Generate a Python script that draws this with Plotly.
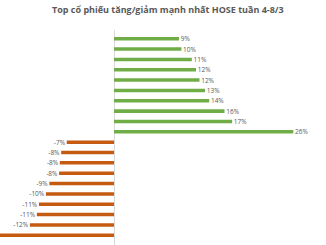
import plotly.graph_objects as go

categories = ["CP%02d" % i for i in range(1, 21)]
values = [9.35, 9.7, 11.2, 11.8, 12.3, 13.1, 13.7, 15.9, 17.0, 25.8,
          -6.8, -7.6, -7.8, -7.9, -9.3, -9.8, -10.8, -11.1, -12.1, -18.0]
labels = [(f"\u00a0{round(v)}%" if v > 0 else f"{round(v)}%\u00a0") for v in values]
colors = ["#70AD47" if v > 0 else "#C55A11" for v in values]

x_min, x_max = -114/6.95, 212/6.95
# labels that fall beyond the visible plot edge are not shown in the reference
positions = ["outside" if (v + (-3 if v < 0 else 3)) > x_min else "none" for v in values]

fig = go.Figure(go.Bar(
    x=values, y=categories, orientation="h",
    marker=dict(color=colors, line=dict(width=0)),
    text=labels, textposition=positions, constraintext="none",
    textfont=dict(size=6.5, color="#595959", family="Open Sans"),
    cliponaxis=True,
))

fig.update_layout(
    width=326, height=245,
    margin=dict(l=0, r=0, t=30, b=0),
    paper_bgcolor="white", plot_bgcolor="white",
    bargap=0.66, showlegend=False,
    title=dict(text="<b>Top cổ phiếu tăng/giảm mạnh nhất HOSE tuần 4-8/3</b>",
               x=0.515, xanchor="center", y=1 - 10/245, yanchor="middle",
               yref="container",
               font=dict(size=9, color="#595959", family="Open Sans")),
)
fig.update_xaxes(range=[x_min, x_max], showgrid=False, showticklabels=False,
                 zeroline=True, zerolinecolor="#D9D9D9", zerolinewidth=1, fixedrange=True)
fig.update_yaxes(type="category", range=[19.94, -0.84], showgrid=False,
                 showticklabels=False, zeroline=False, fixedrange=True)

fig.write_html("out.html")
